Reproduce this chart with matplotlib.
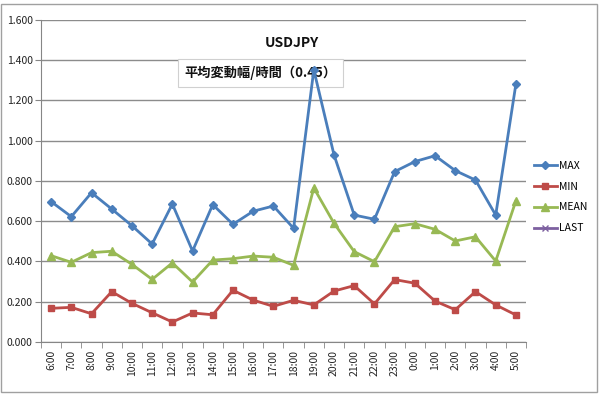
import matplotlib
matplotlib.use("Agg")
import matplotlib.pyplot as plt
from matplotlib.patches import Rectangle
import numpy as np

plt.rcParams['font.family'] = ['Noto Sans CJK JP', 'DejaVu Sans']

hours = ["6:00", "7:00", "8:00", "9:00", "10:00", "11:00", "12:00", "13:00",
         "14:00", "15:00", "16:00", "17:00", "18:00", "19:00", "20:00", "21:00",
         "22:00", "23:00", "0:00", "1:00", "2:00", "3:00", "4:00", "5:00"]
max_vals = [0.697, 0.622, 0.741, 0.660, 0.577, 0.486, 0.685, 0.451, 0.682, 0.584,
            0.649, 0.675, 0.564, 1.352, 0.929, 0.630, 0.609, 0.846, 0.896, 0.925,
            0.851, 0.804, 0.630, 1.282]
min_vals = [0.166, 0.171, 0.139, 0.249, 0.191, 0.144, 0.098, 0.143, 0.134, 0.256,
            0.207, 0.176, 0.206, 0.183, 0.252, 0.279, 0.188, 0.309, 0.291, 0.202,
            0.159, 0.249, 0.183, 0.133]
mean_vals = [0.428, 0.395, 0.443, 0.450, 0.385, 0.310, 0.392, 0.297, 0.406, 0.413,
             0.426, 0.420, 0.380, 0.765, 0.589, 0.448, 0.398, 0.572, 0.587, 0.559,
             0.501, 0.522, 0.401, 0.701]
last_vals = [np.nan] * 24
yticks = [0.0, 0.2, 0.4, 0.6, 0.8, 1.0, 1.2, 1.4, 1.6]

fig = plt.figure(figsize=(6, 3.94), dpi=100)
ax = fig.add_axes([0.0683, 0.1327, 0.8084, 0.8165])

x = np.arange(len(hours))
ax.plot(x, max_vals, color='#4A7EBB', lw=2, marker='D', ms=4, label='MAX', zorder=3)
ax.plot(x, min_vals, color='#BE4B48', lw=2, marker='s', ms=5, label='MIN', zorder=3)
ax.plot(x, mean_vals, color='#98B954', lw=2, marker='^', ms=5.5, label='MEAN', zorder=3)
ax.plot(x, last_vals, color='#7D60A0', lw=2, marker='x', ms=5, label='LAST', zorder=3)

ax.set_xlim(-0.5, len(hours) - 0.5)
ax.set_ylim(0, 1.6)
ax.set_yticks(yticks)
ax.set_yticklabels([f"{v:.3f}" for v in yticks], fontsize=7.5, color='#222222')
ax.set_xticks(x)
ax.set_xticklabels(hours, rotation=90, fontsize=7.5, color='#222222')
ax.set_xticks(np.arange(-0.5, len(hours)), minor=True)
ax.tick_params(axis='x', which='major', length=0, pad=6)
ax.tick_params(axis='x', which='minor', length=4, color='#868686')
ax.tick_params(axis='y', length=4, color='#868686', pad=2)

ax.grid(axis='y', color='#8C8C8C', lw=1)
ax.set_axisbelow(True)
for s in ['top', 'right']:
    ax.spines[s].set_visible(False)
for s in ['left', 'bottom']:
    ax.spines[s].set_color('#868686')

fig.text(0.487, 0.89, "USDJPY", ha='center', va='center', fontsize=10,
         fontweight='bold', color='#111111')
ax.text(0.307, 0.815, "平均変動幅/時間（0.45）", ha='left', va='center', fontsize=9.5,
        fontweight='bold', color='#111111', transform=fig.transFigure, zorder=2.5,
        bbox=dict(boxstyle='square,pad=0.5', fc='white', ec='#D0D0D0', lw=0.8))

leg = fig.legend(loc='upper left', bbox_to_anchor=(0.883, 0.603), frameon=False,
                 fontsize=7.5, handlelength=2.2, handletextpad=0.2,
                 labelspacing=1.05, borderaxespad=0)

fig.add_artist(Rectangle((0.002, 0.005), 0.993, 0.985, transform=fig.transFigure,
                         fill=False, ec='#A0A0A0', lw=1))

fig.savefig("out.png", dpi=100)
